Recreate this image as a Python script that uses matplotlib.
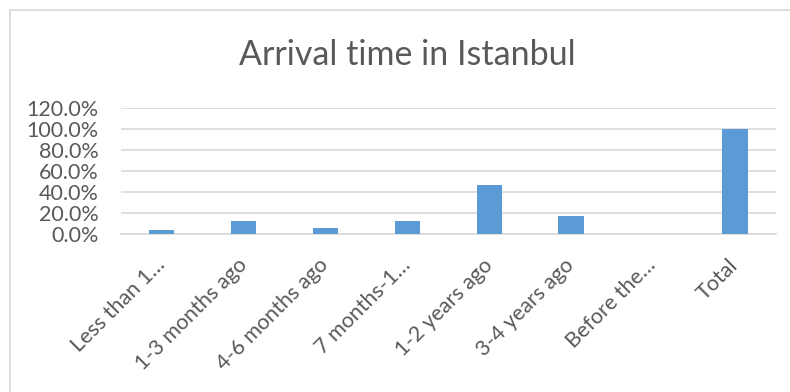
import matplotlib
matplotlib.use("Agg")
import matplotlib.pyplot as plt
from matplotlib.lines import Line2D
from matplotlib.ticker import FuncFormatter, MultipleLocator

categories = ["Less than 1…", "1-3 months ago", "4-6 months ago", "7 months-1…",
              "1-2 years ago", "3-4 years ago", "Before the…", "Total"]
values = [3.8, 12.5, 6.3, 12.5, 46.5, 17.5, 0.0, 100.0]
title = "Arrival time in Istanbul"

plt.rcParams['font.family'] = ['Lato', 'DejaVu Sans']
txt = '#595959'
grid = '#d9d9d9'
bar_c = '#5b9bd5'

fig = plt.figure(figsize=(7.9, 3.92), dpi=100)
ax = fig.add_axes([0.153, 0.4023, 0.829, 0.3222])

x = range(len(categories))
ax.bar(x, values, width=0.31, color=bar_c, zorder=3)
ax.set_xlim(-0.5, len(categories) - 0.5)
ax.set_ylim(0, 120)
ax.yaxis.set_major_locator(MultipleLocator(20))
ax.yaxis.set_major_formatter(FuncFormatter(lambda v, p: f"{v:.1f}%"))
ax.grid(axis='y', color=grid, linewidth=1.2, zorder=0)
for s in ['top', 'right', 'left']:
    ax.spines[s].set_visible(False)
ax.spines['bottom'].set_color(grid)
ax.spines['bottom'].set_linewidth(1.2)
ax.tick_params(axis='both', length=0, colors=txt)
ax.tick_params(axis='y', pad=16, labelsize=15.5)
ax.set_xticks(list(x))
ax.set_xticklabels(categories, rotation=45, ha='right', va='center', rotation_mode='anchor')
ax.tick_params(axis='x', pad=20, labelsize=15.5)

fig.text(0.515, 0.86, title, ha='center', va='center', fontsize=24.5, color=txt)

fig.add_artist(Line2D([9.5/790, 1.0], [1 - 9.5/392, 1 - 9.5/392], color=grid, linewidth=1.2, transform=fig.transFigure))
fig.add_artist(Line2D([9.5/790, 9.5/790], [0, 1 - 9.5/392], color=grid, linewidth=1.2, transform=fig.transFigure))

fig.savefig("out.png", dpi=100)
